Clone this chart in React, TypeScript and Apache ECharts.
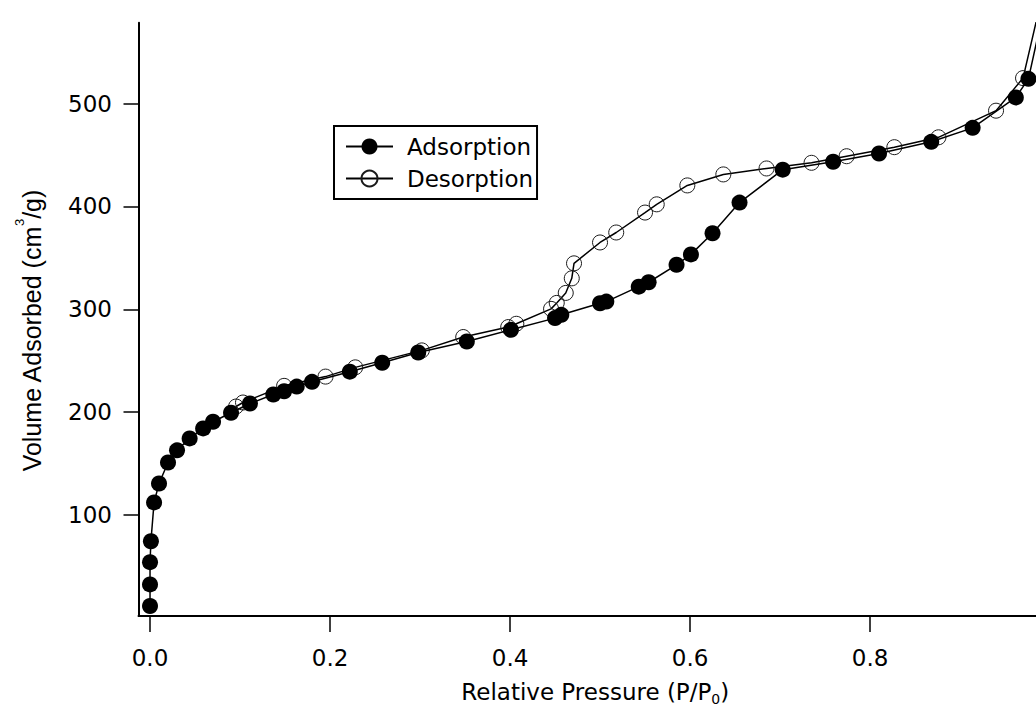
import React, { useEffect, useRef } from "react";
import * as echarts from "echarts";

// Relative pressure (P/P0) and volume adsorbed (cm3/g)
const adsorptionP = [
  0.0, 0.0, 0.0, 0.001, 0.0045, 0.010, 0.020, 0.030, 0.044, 0.059, 0.070, 0.090,
  0.111, 0.137, 0.149, 0.163, 0.180, 0.222, 0.258, 0.298, 0.352, 0.401, 0.450,
  0.457, 0.500, 0.507, 0.543, 0.554, 0.585, 0.601, 0.625, 0.655, 0.703, 0.759,
  0.810, 0.868, 0.914, 0.962, 0.976, 0.990,
];
const adsorptionV = [
  11.3, 32.3, 54.0, 74.3, 112.1, 130.5, 150.9, 162.8, 174.4, 184.1, 190.6, 199.3,
  208.3, 217.1, 220.3, 224.8, 229.4, 239.3, 248.0, 258.0, 268.7, 280.0, 291.4,
  294.6, 305.9, 307.5, 322.0, 326.3, 343.3, 353.4, 374.0, 403.8, 435.8, 443.5,
  451.6, 462.9, 476.5, 506.1, 524.2, 580.0,
];
const desorptionP = [
  0.0956, 0.1033, 0.149, 0.195, 0.228, 0.302, 0.348, 0.398, 0.407, 0.4456, 0.4519,
  0.4619, 0.4686, 0.4711, 0.500, 0.518, 0.550, 0.563, 0.597, 0.637, 0.685, 0.735,
  0.774, 0.827, 0.876, 0.940, 0.970, 0.990,
];
const desorptionV = [
  205.4, 209.3, 225.5, 234.5, 243.5, 260.0, 273.0, 282.7, 285.9, 300.4, 306.2,
  315.9, 330.1, 344.7, 365.0, 374.7, 394.1, 402.1, 420.5, 431.2, 437.0, 442.5,
  448.9, 457.7, 467.3, 493.2, 524.9, 600.0,
];
const xTicks = [0, 0.2, 0.4, 0.6, 0.8];
const yTicks = [100, 200, 300, 400, 500];
const seriesNames = ["Adsorption", "Desorption"];

const LABEL_FONT = "DejaVu Sans";
const TITLE_FONT = "Liberation Sans";

export default function App() {
  const ref = useRef<HTMLDivElement>(null);

  useEffect(() => {
    if (!ref.current) return;
    const chart = echarts.init(ref.current, null, { renderer: "svg" });
    const option: any = {
      animation: false,
      backgroundColor: "#ffffff",
      grid: { left: 138.5, right: 0, top: 22.7, bottom: 92.7, containLabel: false },
      legend: {
        data: seriesNames,
        orient: "vertical",
        left: 334,
        top: 126,
        padding: [9, 4, 9, 11],
        itemWidth: 47,
        itemHeight: 20,
        itemGap: 9,
        borderColor: "#000",
        borderWidth: 2,
        backgroundColor: "#fff",
        selectedMode: false,
        textStyle: {
          fontFamily: LABEL_FONT,
          fontSize: 23,
          color: "#000",
          lineHeight: 23,
          padding: [0, 0, 0, 9],
        },
      },
      xAxis: {
        type: "value",
        min: -0.0128,
        max: 0.9844,
        name: "{a|Relative Pressure (P/P}{sub|0}{a|)}",
        nameLocation: "middle",
        nameGap: 62,
        nameTextStyle: {
          fontFamily: LABEL_FONT,
          fontSize: 23,
          color: "#000",
          padding: [0, 0, 0, 16],
          rich: {
            a: { fontFamily: LABEL_FONT, fontSize: 23, color: "#000", lineHeight: 28 },
            sub: {
              fontFamily: LABEL_FONT,
              fontSize: 14,
              color: "#000",
              lineHeight: 14,
              verticalAlign: "bottom",
            },
          },
        },
        axisLine: { show: true, onZero: false, lineStyle: { color: "#000", width: 2 } },
        axisTick: {
          show: true,
          inside: false,
          length: 16,
          customValues: xTicks,
          lineStyle: { color: "#000", width: 1.5 },
        },
        axisLabel: {
          customValues: xTicks,
          formatter: (v: number) => v.toFixed(1),
          margin: 30,
          fontFamily: LABEL_FONT,
          fontSize: 23,
          color: "#000",
        },
        splitLine: { show: false },
      },
      yAxis: {
        type: "value",
        min: 1.6,
        max: 578.8,
        name: "{a|Volume Adsorbed (cm}{sup|3}{a|/g)}",
        nameLocation: "middle",
        nameGap: 88,
        nameTextStyle: {
          fontFamily: TITLE_FONT,
          fontSize: 25,
          color: "#000",
          padding: [0, 23, 0, 0],
          rich: {
            a: { fontFamily: TITLE_FONT, fontSize: 25, color: "#000", lineHeight: 38 },
            sup: {
              fontFamily: TITLE_FONT,
              fontSize: 13,
              color: "#000",
              lineHeight: 13,
              verticalAlign: "top",
            },
          },
        },
        axisLine: { show: true, onZero: false, lineStyle: { color: "#000", width: 2 } },
        axisTick: {
          show: true,
          inside: false,
          length: 15,
          customValues: yTicks,
          lineStyle: { color: "#000", width: 1.5 },
        },
        axisLabel: {
          customValues: yTicks,
          margin: 26.5,
          fontFamily: LABEL_FONT,
          fontSize: 23,
          color: "#000",
        },
        splitLine: { show: false },
      },
      series: [
        {
          name: "Desorption",
          type: "line",
          data: desorptionP.map((p, i) => [p, desorptionV[i]]),
          symbol: "circle",
          symbolSize: 15,
          showSymbol: true,
          clip: true,
          itemStyle: { color: "rgba(255,255,255,0)", borderColor: "#1a1a1a", borderWidth: 1 },
          lineStyle: { color: "#000", width: 1.5 },
          z: 2,
        },
        {
          name: "Adsorption",
          type: "line",
          data: adsorptionP.map((p, i) => [p, adsorptionV[i]]),
          symbol: "circle",
          symbolSize: 16,
          showSymbol: true,
          clip: true,
          itemStyle: { color: "#000" },
          lineStyle: { color: "#000", width: 1.5 },
          z: 3,
        },
      ],
    };
    chart.setOption(option);
    return () => chart.dispose();
  }, []);

  return (
    <div
      ref={ref}
      style={{ position: "absolute", left: 0, top: 0, width: 1036, height: 711, background: "#fff" }}
    />
  );
}
